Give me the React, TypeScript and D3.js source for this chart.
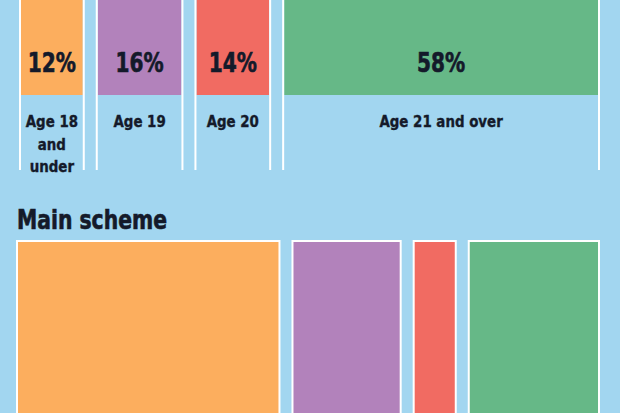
import React from "react";
import * as d3 from "d3";

const categories = ["Age 18 and under", "Age 19", "Age 20", "Age 21 and over"];
const labelLines = [["Age 18", "and", "under"], ["Age 19"], ["Age 20"], ["Age 21 and over"]];
const allShare = [12, 16, 14, 58];
const mainSchemeShare = [48, 20, 8, 24];
const colors = ["#fcae5e", "#b282bb", "#f16b62", "#66b887"];
const mainTitle = "Main scheme";

const W = 620;
const H = 413;
const BG = "#a2d6f0";
const TEXT = "#141a2a";
const FONT = "'DejaVu Sans Condensed', 'DejaVu Sans', sans-serif";

function layout(values: number[], x0: number, x1: number, gap: number) {
  const total = d3.sum(values);
  const avail = x1 - x0 - gap * (values.length - 1);
  const s = d3.scaleLinear().domain([0, total]).range([0, avail]);
  const cum = d3.cumsum(values);
  return values.map((v, i) => {
    const start = x0 + s(cum[i] - v) + gap * i;
    return { start, end: start + s(v), value: v };
  });
}

function CText(props: { x: number; y: number; sx: number; size: number; anchor?: string; children: React.ReactNode }) {
  return (
    <text
      transform={`translate(${props.x},${props.y}) scale(${props.sx},1)`}
      textAnchor={props.anchor || "middle"}
      fontFamily={FONT}
      fontWeight="bold"
      fontSize={props.size}
      fill={TEXT}
      stroke={TEXT}
      strokeWidth={props.size > 20 ? 0.6 : 0.35}
    >
      {props.children}
    </text>
  );
}

export default function App() {
  const top = layout(allShare, 19, 600, 11);
  const bottom = layout(mainSchemeShare, 16, 600, 11);
  return (
    <svg width={W} height={H} style={{ position: "absolute", left: 0, top: 0, display: "block" }}>
      <rect x={0} y={0} width={W} height={H} fill={BG} />
      {top.map((c, i) => (
        <g key={categories[i]}>
          <rect x={c.start + 2} y={-5} width={c.end - c.start - 4} height={100} fill={colors[i]} />
          <rect x={c.start} y={-5} width={2} height={175} fill="#ffffff" />
          <rect x={c.end - 2} y={-5} width={2} height={175} fill="#ffffff" />
          <CText x={(c.start + c.end) / 2} y={72} sx={0.86} size={26}>
            {c.value}%
          </CText>
          {labelLines[i].map((ln, j) => (
            <CText key={j} x={(c.start + c.end) / 2} y={127 + j * 22.5} sx={0.93} size={16}>
              {ln}
            </CText>
          ))}
        </g>
      ))}
      <CText x={17} y={229} sx={0.87} size={26} anchor="start">
        {mainTitle}
      </CText>
      {bottom.map((c, i) => (
        <rect
          key={categories[i]}
          x={c.start + 1}
          y={241}
          width={c.end - c.start - 2}
          height={200}
          fill={colors[i]}
          stroke="#ffffff"
          strokeWidth={2}
        />
      ))}
    </svg>
  );
}
